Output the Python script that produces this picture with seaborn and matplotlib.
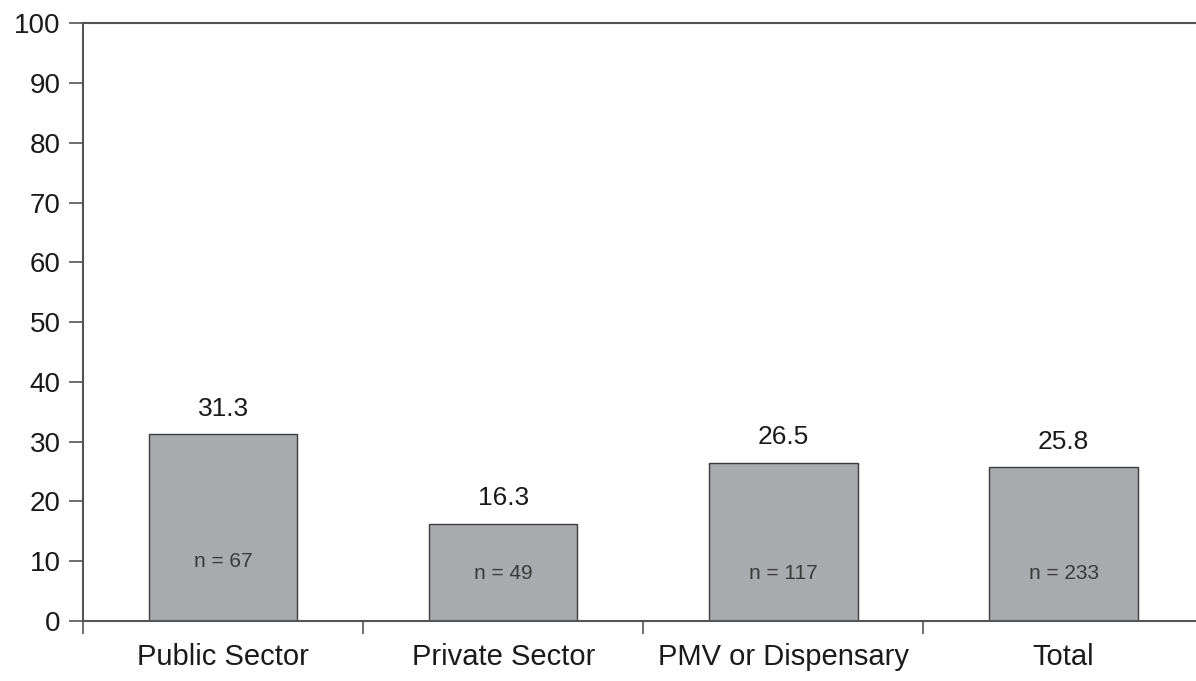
import matplotlib
matplotlib.use('Agg')
import matplotlib.pyplot as plt
import seaborn as sns
import pandas as pd

# data
categories = ['Public Sector', 'Private Sector', 'PMV or Dispensary', 'Total']
percent = [31.3, 16.3, 26.5, 25.8]
n_counts = [67, 49, 117, 233]

# layout of the "n = " labels inside the bars (data units)
n_label_y = [10, 8, 8, 8]

BAR_GREY = '#a9aaae'
AXIS_GREY = '#555555'
TEXT = '#1a1a1a'

sns.set_style('white')
plt.rcParams['font.family'] = ['Liberation Sans', 'DejaVu Sans']

df = pd.DataFrame({'category': categories, 'percent': percent})

fig = plt.figure(figsize=(11.96, 6.81), dpi=100)
ax = fig.add_axes([0.0694, 0.088, 0.937, 0.878])

sns.barplot(data=df, x='category', y='percent', color=BAR_GREY, width=0.53,
            edgecolor='#3a3a3a', linewidth=1.0, saturation=1, ax=ax)

for i, (v, n) in enumerate(zip(percent, n_counts)):
    ax.text(i, v + 2.2, f'{v:.1f}', ha='center', va='bottom', fontsize=19, color=TEXT)
    ax.text(i, n_label_y[i], f'n = {n}', ha='center', va='center', fontsize=15, color='#3a3a3a')

ax.set_xlim(-0.5, 3.5)
ax.set_ylim(0, 100)
ax.set_yticks(range(0, 101, 10))
ax.set_xlabel('')
ax.set_ylabel('')

# category labels without marks, marks between categories
ax.set_xticks(range(len(categories)))
ax.set_xticklabels(categories, fontsize=21, color=TEXT)
ax.set_xticks([-0.5, 0.5, 1.5, 2.5], minor=True)
ax.tick_params(axis='x', which='major', length=0, pad=16, bottom=True)
ax.tick_params(axis='x', which='minor', length=9, width=1.2, color=AXIS_GREY,
               direction='out', bottom=True)
ax.tick_params(axis='y', length=10, width=1.2, color=AXIS_GREY, direction='out', labelsize=20,
               labelcolor=TEXT, pad=6, left=True)

for side in ['left', 'bottom', 'top']:
    ax.spines[side].set_visible(True)
    ax.spines[side].set_color(AXIS_GREY)
    ax.spines[side].set_linewidth(1.5)
ax.spines['right'].set_visible(False)

fig.savefig('out.png', dpi=100)
